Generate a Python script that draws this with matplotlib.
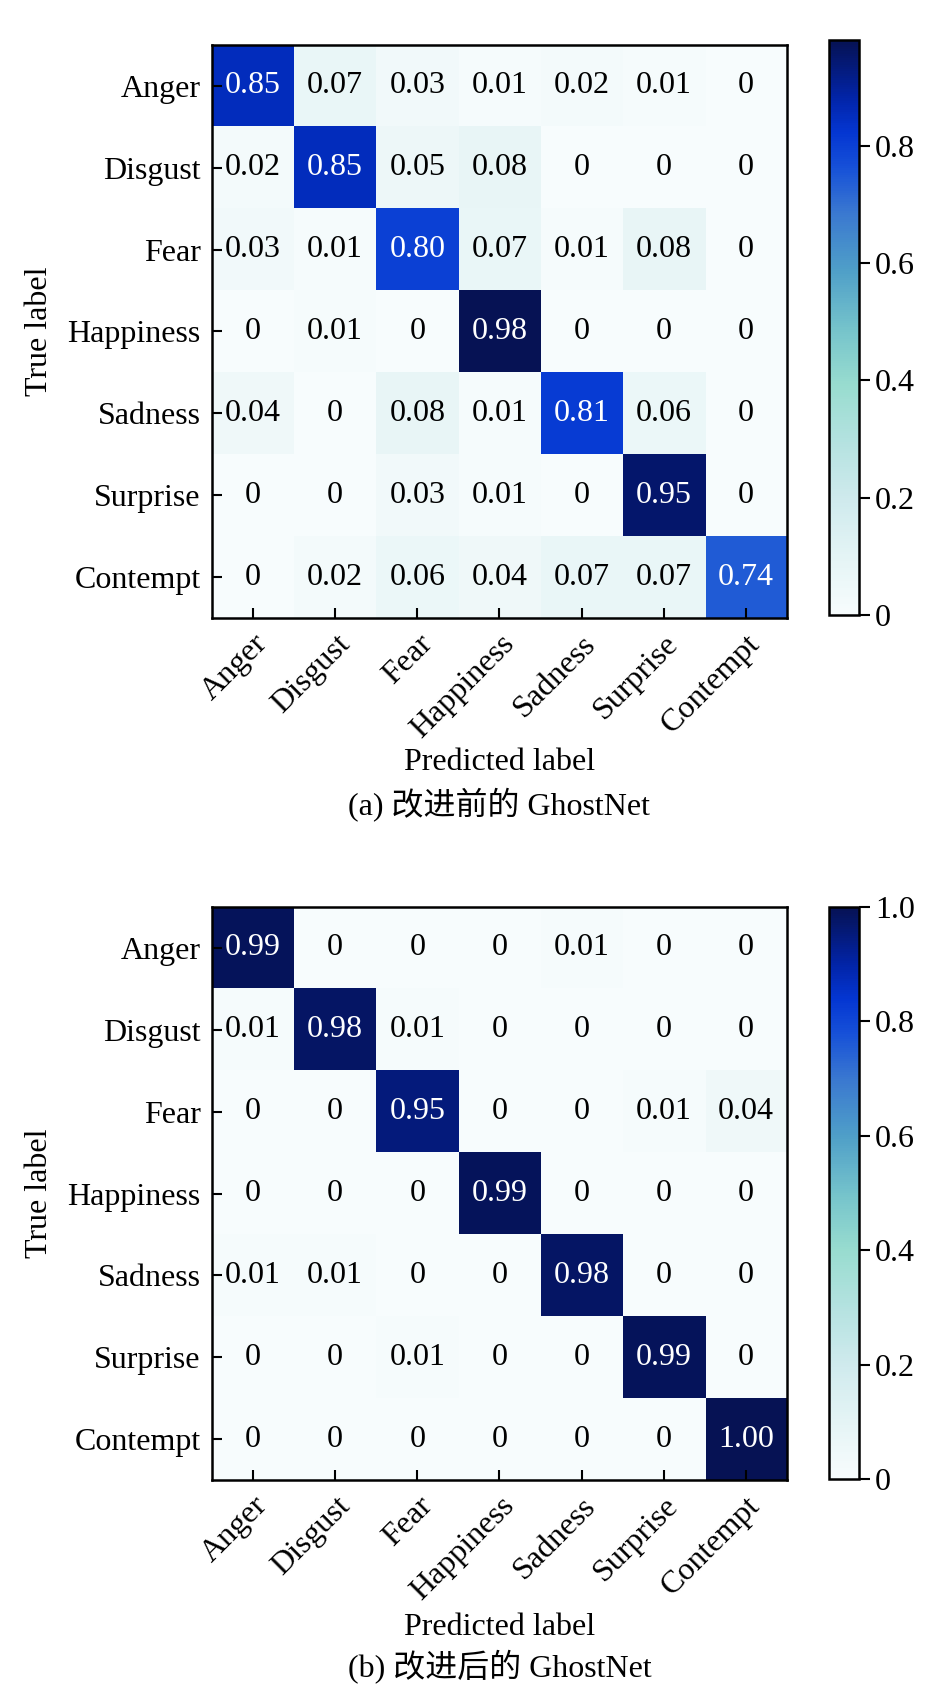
import numpy as np
import matplotlib
matplotlib.use('Agg')
import matplotlib.pyplot as plt
from matplotlib.colors import LinearSegmentedColormap
from matplotlib.ticker import FuncFormatter

plt.rcParams['font.family'] = ['Liberation Serif', 'Noto Sans CJK SC']

classes = ['Anger', 'Disgust', 'Fear', 'Happiness', 'Sadness', 'Surprise', 'Contempt']

cm_before = np.array([
    [0.85, 0.07, 0.03, 0.01, 0.02, 0.01, 0.00],
    [0.02, 0.85, 0.05, 0.08, 0.00, 0.00, 0.00],
    [0.03, 0.01, 0.80, 0.07, 0.01, 0.08, 0.00],
    [0.00, 0.01, 0.00, 0.98, 0.00, 0.00, 0.00],
    [0.04, 0.00, 0.08, 0.01, 0.81, 0.06, 0.00],
    [0.00, 0.00, 0.03, 0.01, 0.00, 0.95, 0.00],
    [0.00, 0.02, 0.06, 0.04, 0.07, 0.07, 0.74],
])

cm_after = np.array([
    [0.99, 0.00, 0.00, 0.00, 0.01, 0.00, 0.00],
    [0.01, 0.98, 0.01, 0.00, 0.00, 0.00, 0.00],
    [0.00, 0.00, 0.95, 0.00, 0.00, 0.01, 0.04],
    [0.00, 0.00, 0.00, 0.99, 0.00, 0.00, 0.00],
    [0.01, 0.01, 0.00, 0.00, 0.98, 0.00, 0.00],
    [0.00, 0.00, 0.01, 0.00, 0.00, 0.99, 0.00],
    [0.00, 0.00, 0.00, 0.00, 0.00, 0.00, 1.00],
])

captions = ['(a) 改进前的 GhostNet', '(b) 改进后的 GhostNet']

# white -> pale aqua -> teal -> blue -> navy
cmap = LinearSegmentedColormap.from_list('cm_blue', [
    (0.00, '#f7fcfd'),
    (0.10, '#e4f4f5'),
    (0.20, '#cfeaed'),
    (0.30, '#b4e2e0'),
    (0.40, '#98dccf'),
    (0.50, '#74c2cb'),
    (0.60, '#4f9fc8'),
    (0.70, '#3a78d0'),
    (0.78, '#1650d8'),
    (0.84, '#0436d2'),
    (0.90, '#0224a8'),
    (1.00, '#061254'),
])

FS = 23

def fmt_cell(v):
    return '0' if v == 0 else '%.2f' % v

def cbar_fmt(v, pos):
    return '0' if abs(v) < 1e-9 else '%.1f' % v

fig = plt.figure(figsize=(9.45, 16.89), dpi=100)

blocks = [
    (cm_before, [0.2243, 0.6341, 0.6085, 0.3393], [0.8772, 0.6359, 0.0317, 0.3404], 0.5483, 0.5234),
    (cm_after, [0.2243, 0.1237, 0.6085, 0.3393], [0.8772, 0.1243, 0.0317, 0.3387], 0.0367, 0.0130),
]

for (cm, ax_pos, cb_pos, xl_y, cap_y), cap in zip(blocks, captions):
    ax = fig.add_axes(ax_pos)
    im = ax.imshow(cm, cmap=cmap, vmin=0, vmax=cm.max(), aspect='auto',
                   interpolation='nearest')
    n = len(classes)
    ax.set_xticks(np.arange(n))
    ax.set_yticks(np.arange(n))
    ax.set_xticklabels(classes, rotation=45, ha='right', rotation_mode='anchor', fontsize=FS)
    ax.set_yticklabels(classes, fontsize=FS)
    ax.tick_params(direction='in', length=7, width=1.5, pad=8)
    for s in ax.spines.values():
        s.set_linewidth(1.8)

    thresh = cm.max() / 2.
    for i in range(n):
        for j in range(n):
            ax.text(j, i, fmt_cell(cm[i, j]), ha='center', va='center', fontsize=FS,
                    color='white' if cm[i, j] > thresh else 'black')

    ax.set_ylabel('True label', fontsize=FS, labelpad=10)
    fig.text(ax_pos[0] + ax_pos[2] / 2, xl_y, 'Predicted label', ha='center', va='center', fontsize=FS)
    fig.text(ax_pos[0] + ax_pos[2] / 2, cap_y, cap, ha='center', va='center', fontsize=FS)

    cax = fig.add_axes(cb_pos)
    cb = fig.colorbar(im, cax=cax)
    cb.set_ticks(np.arange(0, cm.max() + 1e-6, 0.2))
    cb.ax.yaxis.set_major_formatter(FuncFormatter(cbar_fmt))
    cb.ax.tick_params(labelsize=FS, length=8, width=1.5, direction='out')
    cb.outline.set_linewidth(1.8)

fig.savefig('out.png', dpi=100)
